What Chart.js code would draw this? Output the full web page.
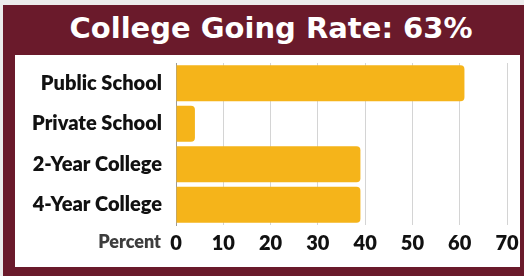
<!DOCTYPE html>
<html lang="en">
<head>
    <meta charset="UTF-8">
    <title>College Going Rate</title>
    <script src="https://cdn.jsdelivr.net/npm/chart.js"></script>
    <style>
        body {
            margin: 0;
            width: 524px;
            height: 276px;
            overflow: hidden;
            background: #ececec;
            font-family: Lato, sans-serif;
        }
        .frame {
            position: absolute;
            left: 3px;
            top: 5px;
            width: 540px;
            height: 290px;
            background: #6a1a2b;
        }
        .title {
            position: absolute;
            left: 0;
            top: 6px;
            width: 536px;
            text-align: center;
            color: #fff;
            font-family: "DejaVu Sans", sans-serif;
            font-weight: bold;
            font-size: 29px;
            line-height: 34px;
        }
        .panel {
            position: absolute;
            left: 12px;
            top: 50px;
            width: 505px;
            height: 212px;
            background: #fff;
        }
        canvas { display: block; }
    </style>
</head>
<body>
    <div class="frame">
        <div class="title">College Going Rate: 63%</div>
        <div class="panel">
            <canvas id="rateChart" width="505" height="212"></canvas>
        </div>
    </div>

    <script>
        let categories = ["Public School", "Private School", "2-Year College", "4-Year College"];
        let rates = [61, 4, 39, 39];
        let xTicks = [0, 10, 20, 30, 40, 50, 60, 70];
        let xTitle = "Percent";

        // "Percent" sits left of the zero tick, on the tick row
        let axisNote = {
            id: "axisNote",
            afterDraw(chart) {
                let ctx = chart.ctx;
                let x = chart.scales.x;
                ctx.save();
                ctx.font = "800 18px Lato";
                ctx.fillStyle = "#3d3d3d";
                ctx.textAlign = "right";
                ctx.textBaseline = "middle";
                ctx.fillText(xTitle, x.left - 15, x.top + 17);
                ctx.restore();
            }
        };

        let ctx = document.getElementById("rateChart").getContext("2d");
        new Chart(ctx, {
            type: "bar",
            data: {
                labels: categories,
                datasets: [{
                    data: rates,
                    backgroundColor: "#f5b41a",
                    borderRadius: 4,
                    barPercentage: 0.89,
                    categoryPercentage: 1
                }]
            },
            options: {
                indexAxis: "y",
                responsive: false,
                animation: false,
                layout: { padding: { top: 8, right: 13, bottom: 12, left: 0 } },
                plugins: {
                    legend: { display: false },
                    tooltip: { enabled: false }
                },
                scales: {
                    x: {
                        min: 0,
                        max: 70,
                        afterBuildTicks: s => { s.ticks = xTicks.map(v => ({ value: v })); },
                        afterFit: s => {
                            s.height = 30;
                            s.paddingLeft = 0;
                            s.paddingRight = 0;
                        },
                        grid: { color: "#d4d4d4", drawTicks: false },
                        border: { display: false },
                        ticks: {
                            padding: 7,
                            color: "#111",
                            font: { family: "Lato", size: 20, weight: "800" }
                        }
                    },
                    y: {
                        afterFit: s => {
                            s.width = 161;
                            s.paddingTop = 0;
                            s.paddingBottom = 0;
                        },
                        grid: { display: false },
                        border: { display: true, color: "#9a9a9a" },
                        ticks: {
                            padding: 6,
                            color: "#111",
                            font: { family: "Lato", size: 20, weight: "800" }
                        }
                    }
                }
            },
            plugins: [axisNote]
        });
    </script>
</body>
</html>
